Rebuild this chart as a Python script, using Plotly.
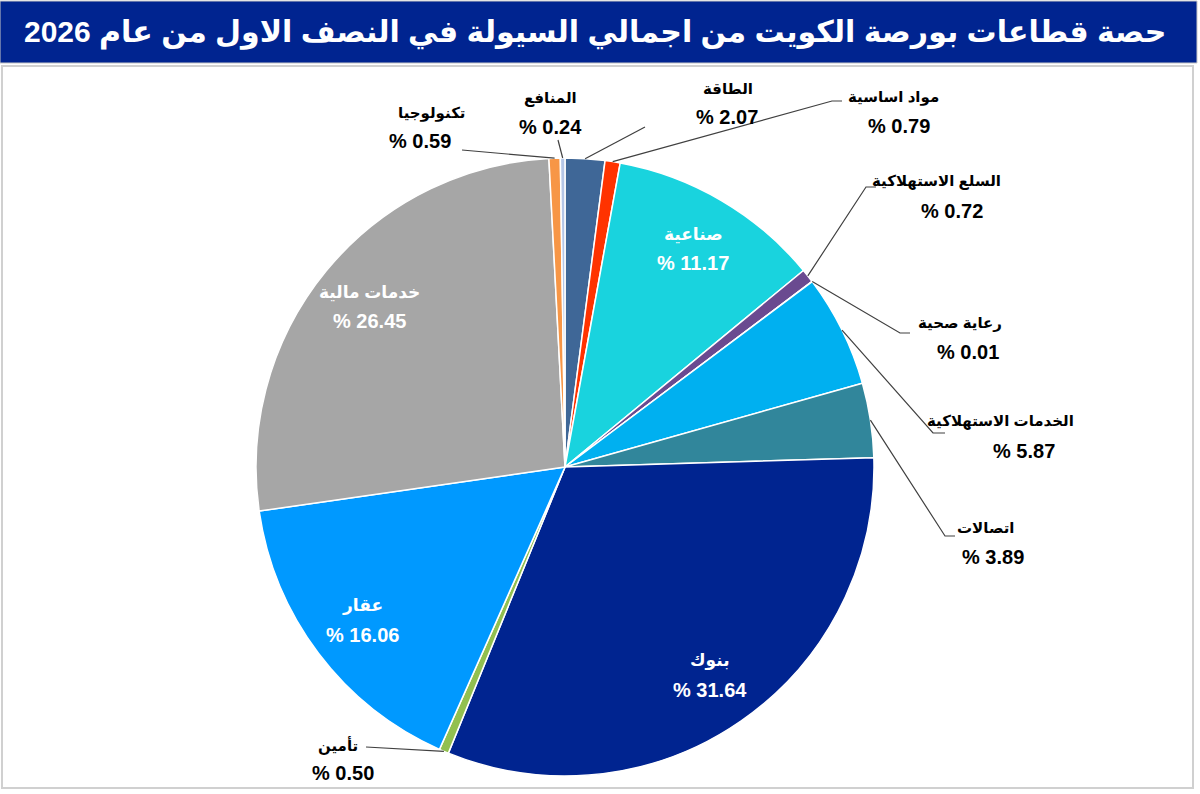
import math
import plotly.graph_objects as go

# ---- data ----
sectors = ["الطاقة", "مواد اساسية", "صناعية", "السلع الاستهلاكية", "رعاية صحية",
           "الخدمات الاستهلاكية", "اتصالات", "بنوك", "تأمين", "عقار",
           "خدمات مالية", "تكنولوجيا", "المنافع"]
shares = [2.07, 0.79, 11.17, 0.72, 0.01, 5.87, 3.89, 31.64, 0.50, 16.06, 26.45, 0.59, 0.24]
title_text = "حصة قطاعات بورصة الكويت من اجمالي السيولة في النصف الاول من عام 2026"

# ---- styles ----
colors = ["#3F6797", "#FF3300", "#19D3DE", "#6A4A90", "#8064A2",
          "#00B0F0", "#31869B", "#002490", "#92C050", "#0099FF",
          "#A6A6A6", "#F79646", "#B4C6E7"]
inside = {"صناعية", "خدمات مالية", "عقار", "بنوك"}
# outside label layout: (name x, name y, value x, value y, leader waypoints)
label_pos = {
    "تكنولوجيا": (432, 113, 420, 141, [(462, 150)]),
    "المنافع": (550, 98, 550, 127, [(558, 140)]),
    "الطاقة": (728, 88, 727, 117, [(645, 127)]),
    "مواد اساسية": (893, 97, 899, 126, [(832, 101), (842, 101)]),
    "السلع الاستهلاكية": (936, 181, 952, 211, [(866, 187), (876, 187)]),
    "رعاية صحية": (960, 323, 968, 352, [(900, 333), (910, 333)]),
    "الخدمات الاستهلاكية": (1000, 421, 1024, 451, [(933, 433), (945, 433)]),
    "اتصالات": (985, 527, 993, 557, [(945, 536), (955, 536)]),
    "تأمين": (338, 745, 343, 773, [(366, 747)]),
}
W, H = 1200, 794
CX, CY, R = 565, 467, 309
FONT = "Arial, Liberation Sans, DejaVu Sans, sans-serif"

fig = go.Figure()
fig.add_trace(go.Pie(
    labels=sectors, values=shares, sort=False, direction="clockwise", rotation=0,
    marker=dict(colors=colors, line=dict(color="white", width=1.5)),
    textinfo="none", hoverinfo="label+value", showlegend=False,
    domain=dict(x=[(CX - R) / W, (CX + R) / W], y=[(H - CY - R) / H, (H - CY + R) / H]),
))

annotations = []
shapes = []
total = sum(shares)
cum = 0.0
for name, v in zip(sectors, shares):
    mid = (cum + v / 2) / total * 2 * math.pi
    cum += v
    val = f"% {v:.2f}"
    if name in inside:
        rr = 0.82 * R
        x = CX + rr * math.sin(mid)
        y = CY - rr * math.cos(mid)
        annotations.append(dict(x=x, y=y - 14, text=f"<b>{name}</b>", showarrow=False,
                                font=dict(family=FONT, size=17, color="white"), xref="x", yref="y"))
        annotations.append(dict(x=x, y=y + 15, text=f"<b>{val}</b>", showarrow=False,
                                font=dict(family=FONT, size=20, color="white"), xref="x", yref="y"))
    else:
        nx, ny, vx, vy, pts = label_pos[name]
        annotations.append(dict(x=nx, y=ny, text=f"<b>{name}</b>", showarrow=False,
                                font=dict(family=FONT, size=15, color="black"), xref="x", yref="y"))
        annotations.append(dict(x=vx, y=vy, text=f"<b>{val}</b>", showarrow=False,
                                font=dict(family=FONT, size=20, color="black"), xref="x", yref="y"))
        ex = CX + R * math.sin(mid)
        ey = CY - R * math.cos(mid)
        path = f"M {ex:.1f} {ey:.1f} " + " ".join(f"L {px} {py}" for px, py in pts)
        shapes.append(dict(type="path", path=path, xref="x", yref="y",
                           line=dict(color="#404040", width=1.2)))

# frame and title bar
shapes.insert(0, dict(type="rect", xref="x", yref="y", x0=2, x1=1193, y0=66, y1=788,
                      line=dict(color="#D0D0D0", width=2), fillcolor="white", layer="below"))
shapes.insert(0, dict(type="rect", xref="x", yref="y", x0=0, x1=1197, y0=1, y1=63,
                      line=dict(color="#C8C8C8", width=1), fillcolor="#002490", layer="below"))
annotations.append(dict(x=1168, y=32, xanchor="right", text=f"<b>{title_text}</b>", showarrow=False,
                        font=dict(family=FONT, size=30, color="white"), xref="x", yref="y"))

fig.update_layout(
    width=W, height=H, margin=dict(l=0, r=0, t=0, b=0),
    paper_bgcolor="white", plot_bgcolor="rgba(0,0,0,0)",
    xaxis=dict(range=[0, W], visible=False, fixedrange=True),
    yaxis=dict(range=[H, 0], visible=False, fixedrange=True),
    shapes=shapes, annotations=annotations,
)
fig.write_html("out.html")
